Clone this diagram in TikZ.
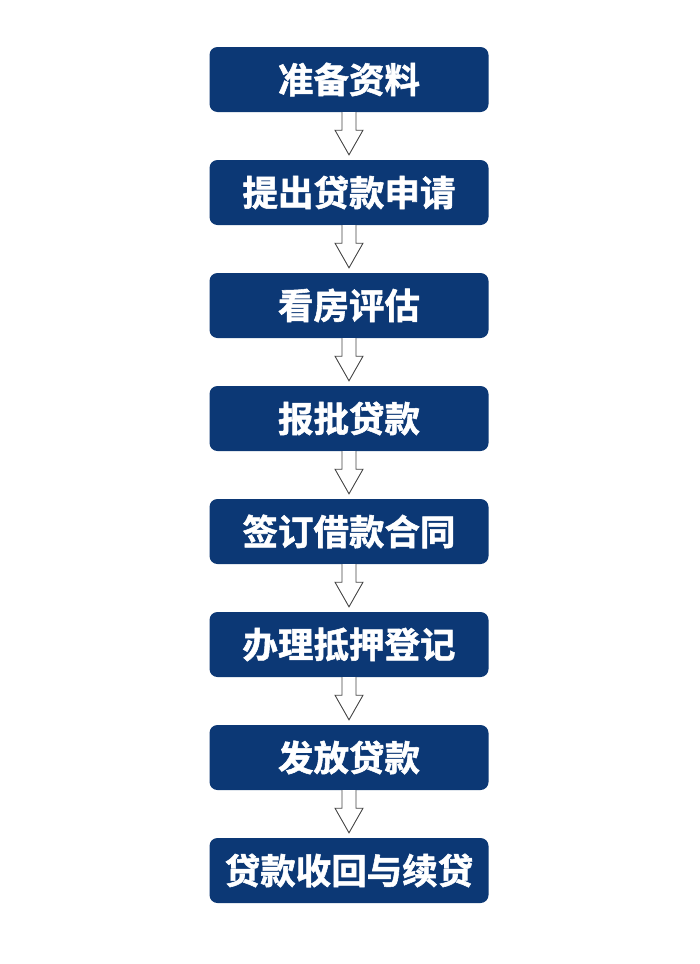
\documentclass[tikz,border=0pt]{standalone}
\usepackage{fontspec}
\setmainfont{Noto Sans CJK SC}[BoldFont={Noto Sans CJK SC Bold},BoldFeatures={FakeBold=1.5}]
\usetikzlibrary{calc}
\definecolor{navy}{RGB}{12,56,117}
\definecolor{arrowline}{RGB}{70,70,70}
\tikzset{
  stepbox/.style={fill=navy, draw=none, rounded corners=8pt, minimum width=279pt, minimum height=65pt,
    text=white, font=\fontsize{35.5}{38}\selectfont\bfseries, inner sep=0pt},
  hollow/.style={draw=arrowline, fill=white, line width=0.9pt, line join=miter}
}
\newcommand{\hollowarrow}[2]{%
  \draw[hollow] ($(#1.south)+(-7,0)$) -- ($(#1.south)+(-7,18)$) -- ($(#1.south)+(-14,18)$)
    -- ($(#2.north)+(0,-5)$) -- ($(#1.south)+(14,18)$) -- ($(#1.south)+(7,18)$) -- ($(#1.south)+(7,0)$);
}
\begin{document}
\begin{tikzpicture}[x=1pt,y=-1pt]
\useasboundingbox[fill=white] (0,0) rectangle (700,964);
\node[stepbox] (s1) at (349,79.5) {准备资料};
\node[stepbox] (s2) at (349,192.5) {提出贷款申请};
\node[stepbox] (s3) at (349,305.5) {看房评估};
\node[stepbox] (s4) at (349,418.5) {报批贷款};
\node[stepbox] (s5) at (349,531.5) {签订借款合同};
\node[stepbox] (s6) at (349,644.5) {办理抵押登记};
\node[stepbox] (s7) at (349,757.5) {发放贷款};
\node[stepbox] (s8) at (349,870.5) {贷款收回与续贷};
\hollowarrow{s1}{s2}
\hollowarrow{s2}{s3}
\hollowarrow{s3}{s4}
\hollowarrow{s4}{s5}
\hollowarrow{s5}{s6}
\hollowarrow{s6}{s7}
\hollowarrow{s7}{s8}
\end{tikzpicture}
\end{document}
